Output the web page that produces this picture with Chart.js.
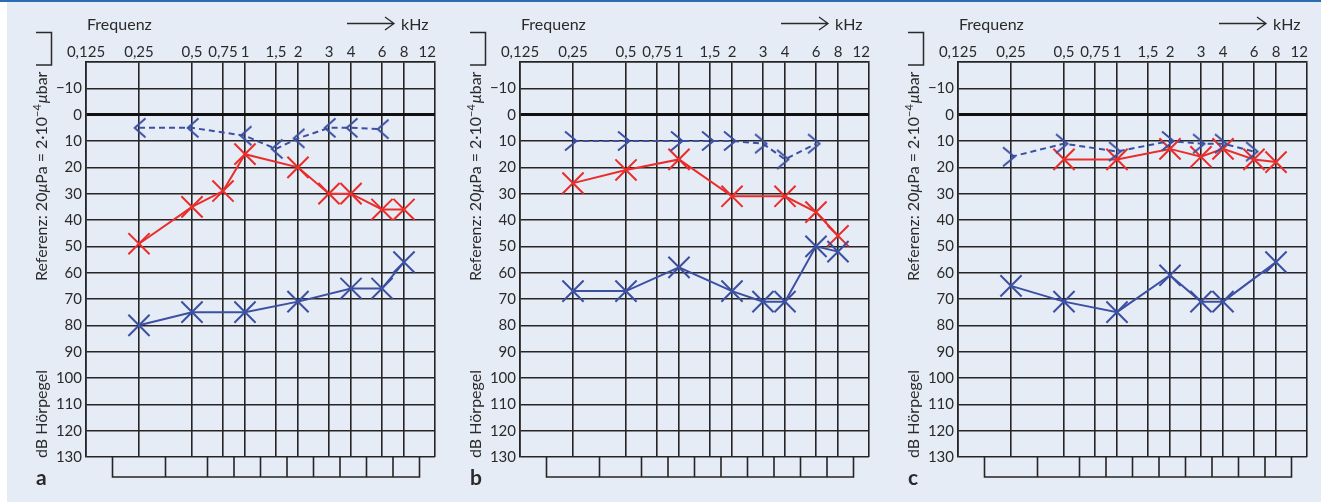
<!DOCTYPE html>
<html><head><meta charset="utf-8">
<script src="https://cdn.jsdelivr.net/npm/chart.js@4.4.1/dist/chart.umd.min.js"></script>
<style>
html,body{margin:0;padding:0;background:#fff;width:1321px;height:502px;overflow:hidden;}
#bg{position:absolute;left:7px;top:2px;width:1314px;height:500px;background:#e6ecf6;}
#topline{position:absolute;left:0;top:0;width:1321px;height:2px;background:#2b6cb3;}
canvas{position:absolute;top:0;}
</style></head><body>
<div id="bg"></div><div id="topline"></div>
<canvas id="ca" width="440" height="502" style="left:0px"></canvas>
<canvas id="cb" width="440" height="502" style="left:434px"></canvas>
<canvas id="cc" width="449" height="502" style="left:872px"></canvas>
<script>
// ---- axis ticks ----
const FREQ_TICKS  = [0.125, 0.25, 0.5, 0.75, 1, 1.5, 2, 3, 4, 6, 8, 12];
const FREQ_LABELS = ['0,125','0,25','0,5','0,75','1','1,5','2','3','4','6','8','12'];
const DB_TICKS    = [-20,-10,0,10,20,30,40,50,60,70,80,90,100,110,120,130];
const BOX_FREQS   = [0.25, 0.5, 0.75, 1, 1.5, 2, 3, 4, 6, 8];

// ---- panel a ----
const A_BONE_FREQ = [0.25, 0.5, 1, 1.5, 2, 3, 4, 6];
const A_BONE_DB   = [5, 5, 8, 13, 9, 5, 5, 5.5];
const A_RED_FREQ  = [0.25, 0.5, 0.75, 1, 2, 3, 4, 6, 8];
const A_RED_DB    = [49, 35, 29, 15, 20, 30, 30, 36, 36];
const A_BLUE_FREQ = [0.25, 0.5, 1, 2, 4, 6, 8];
const A_BLUE_DB   = [80, 75, 75, 71, 66, 66, 56];

// ---- panel b ----
const B_BONE_FREQ = [0.25, 0.5, 1, 1.5, 2, 3, 4, 6];
const B_BONE_DB   = [10, 10, 10, 10, 10, 11, 17, 11];
const B_RED_FREQ  = [0.25, 0.5, 1, 2, 4, 6, 8];
const B_RED_DB    = [26, 21, 17, 31, 31, 37, 46];
const B_BLUE_FREQ = [0.25, 0.5, 1, 2, 3, 4, 6, 8];
const B_BLUE_DB   = [67, 67, 58, 67, 71, 71, 50, 52];

// ---- panel c ----
const C_BONE_FREQ = [0.25, 0.5, 1, 2, 3, 4, 6];
const C_BONE_DB   = [16, 11, 14, 10, 11, 11, 14];
const C_RED_FREQ  = [0.5, 1, 2, 3, 4, 6, 8];
const C_RED_DB    = [17, 17, 13, 16, 13, 17, 18];
const C_BLUE_FREQ = [0.25, 0.5, 1, 2, 3, 4, 8];
const C_BLUE_DB   = [65, 71, 75, 61, 71, 71, 56];

const RED = '#ea2c2a', BLUE = '#3b50a2', GRID = '#262424', TXT = '#2b2a2a';
const FONT = 'Lato, "Open Sans", sans-serif';
const X_MIN = 0.125, X_MAX = 12, Y_MIN = -20, Y_MAX = 130;

function chevron(dir){
  const c = document.createElement('canvas'); c.width = 28; c.height = 28;
  const g = c.getContext('2d'); g.strokeStyle = BLUE; g.lineWidth = 2;
  const cx = 14, cy = 14;
  const tip = dir > 0 ? 3.5 : -4.3, arm = dir > 0 ? -8 : 6.5;
  g.beginPath(); g.moveTo(cx+arm, cy-9.5); g.lineTo(cx+tip, cy); g.lineTo(cx+arm, cy+9.5); g.stroke();
  return c;
}
const LEFT_MARK = chevron(-1), RIGHT_MARK = chevron(1);

function ds(freq, db, color, style, dashed){
  return {
    data: freq.map((f,i)=>({x:f, y:db[i]})),
    borderColor: color, backgroundColor: color, borderWidth: 2,
    borderDash: dashed ? [6,4] : [],
    pointStyle: style, pointRadius: style === 'crossRot' ? 15 : 10,
    pointBorderWidth: 2, pointBorderColor: color, pointBackgroundColor: color,
    tension: 0, clip: false
  };
}

const deco = {
  id: 'deco',
  afterDraw(chart, args, opts){
    const ctx = chart.ctx;
    const {left, right, top, bottom} = chart.chartArea;
    const xs = chart.scales.x;
    ctx.save();
    ctx.fillStyle = TXT; ctx.strokeStyle = TXT;
    // x tick labels
    ctx.font = '15px ' + FONT; ctx.textBaseline = 'alphabetic';
    FREQ_TICKS.forEach((v,i)=>{
      const px = xs.getPixelForValue(v);
      const last = i === FREQ_TICKS.length-1;
      ctx.textAlign = last ? 'right' : 'center';
      ctx.fillText(FREQ_LABELS[i], last ? px + 1 : px, top - 5);
    });
    // Frequenz + arrow kHz
    ctx.font = '16px ' + FONT; ctx.textAlign = 'left';
    ctx.fillText('Frequenz', left + 1, 30);
    ctx.fillText('kHz', right - 34, 30);
    ctx.lineWidth = 1.3;
    ctx.beginPath();
    ctx.moveTo(right-88, 23.5); ctx.lineTo(right-41, 23.5);
    ctx.moveTo(right-50, 17); ctx.lineTo(right-41, 23.5); ctx.lineTo(right-50, 30);
    ctx.stroke();
    // bracket
    ctx.lineWidth = 1.5;
    ctx.beginPath();
    ctx.moveTo(left-50, 32.5); ctx.lineTo(left-34.5, 32.5); ctx.lineTo(left-34.5, 65); ctx.lineTo(left-50, 65);
    ctx.stroke();
    // rotated y titles
    const segs = [
      ['Referenz: 20', '16px ' + FONT, 0],
      ['\u03bc', 'italic 16px ' + FONT, 0],
      ['Pa = 2\u00b710', '16px ' + FONT, 0],
      ['\u22124', '11px ' + FONT, -6],
      ['\u03bc', 'italic 16px ' + FONT, 0],
      ['bar', '16px ' + FONT, 0]
    ];
    ctx.save();
    ctx.translate(left - 39.5, 281);
    ctx.rotate(-Math.PI/2);
    ctx.textAlign = 'left';
    let xx = 0;
    segs.forEach(s=>{ ctx.font = s[1]; ctx.fillText(s[0], xx, s[2]); xx += ctx.measureText(s[0]).width + (s[0]==='\u22124' ? 1 : 0); });
    ctx.restore();
    ctx.save();
    ctx.translate(left - 39.5, 458);
    ctx.rotate(-Math.PI/2);
    ctx.textAlign = 'left'; ctx.font = '16px ' + FONT;
    ctx.fillText('dB H\u00f6rpegel', 0, 0);
    ctx.restore();
    // box row under the grid
    const edges = [Math.sqrt(FREQ_TICKS[0]*FREQ_TICKS[1])];
    for (let i=0;i<BOX_FREQS.length-1;i++) edges.push(Math.sqrt(BOX_FREQS[i]*BOX_FREQS[i+1]));
    edges.push(Math.sqrt(FREQ_TICKS[10]*FREQ_TICKS[11]));
    const ex = edges.map(v=>xs.getPixelForValue(v));
    ctx.strokeStyle = GRID; ctx.lineWidth = 1.6;
    ctx.beginPath();
    ctx.moveTo(ex[0], bottom); ctx.lineTo(ex[0], bottom+20); ctx.lineTo(ex[ex.length-1], bottom+20); ctx.lineTo(ex[ex.length-1], bottom);
    for (let i=1;i<ex.length-1;i++){ ctx.moveTo(ex[i], bottom); ctx.lineTo(ex[i], bottom+20); }
    ctx.stroke();
    // panel letter
    ctx.fillStyle = TXT;
    ctx.font = 'bold 21px ' + FONT; ctx.textAlign = 'left';
    ctx.fillText(opts.letter, left - 50, 485);
    ctx.restore();
  }
};

function makeChart(id, padRight, letter, sets){
  return new Chart(document.getElementById(id), {
    type: 'line',
    data: { datasets: sets },
    plugins: [deco],
    options: {
      responsive: false, animation: false, devicePixelRatio: 1,
      layout: { autoPadding: false, padding: { left: 0, right: padRight, top: 0, bottom: 45 } },
      plugins: { legend: { display: false }, tooltip: { enabled: false }, deco: { letter } },
      scales: {
        x: {
          type: 'logarithmic', position: 'top', min: X_MIN, max: X_MAX, bounds: 'data',
          afterBuildTicks: ax => { ax.min = X_MIN; ax.max = X_MAX; ax.ticks = FREQ_TICKS.map(v=>({value: v})); },
          afterFit: ax => { ax.height = 62; },
          ticks: { display: false },
          grid: { color: GRID, lineWidth: 1.6, drawTicks: false },
          border: { color: GRID, width: 1.6 }
        },
        y: {
          type: 'linear', reverse: true, min: Y_MIN, max: Y_MAX,
          afterBuildTicks: ax => { ax.min = Y_MIN; ax.max = Y_MAX; ax.ticks = DB_TICKS.map(v=>({value: v})); },
          afterFit: ax => { ax.width = 86; },
          ticks: {
            autoSkip: false, padding: 4, color: TXT, font: { family: FONT, size: 15 },
            callback: v => v === -20 ? '' : (v < 0 ? '\u2212' + Math.abs(v) : String(v))
          },
          grid: {
            drawTicks: false,
            color: c => (c.tick && c.tick.value === 0) ? '#111' : GRID,
            lineWidth: c => (c.tick && c.tick.value === 0) ? 3 : 1.6
          },
          border: { color: GRID, width: 1.6 }
        }
      }
    }
  });
}

makeChart('ca', 5, 'a', [
  ds(A_BONE_FREQ, A_BONE_DB, BLUE, LEFT_MARK, true),
  ds(A_BLUE_FREQ, A_BLUE_DB, BLUE, 'crossRot', false),
  ds(A_RED_FREQ, A_RED_DB, RED, 'crossRot', false)
]);
makeChart('cb', 5, 'b', [
  ds(B_BONE_FREQ, B_BONE_DB, BLUE, RIGHT_MARK, true),
  ds(B_BLUE_FREQ, B_BLUE_DB, BLUE, 'crossRot', false),
  ds(B_RED_FREQ, B_RED_DB, RED, 'crossRot', false)
]);
makeChart('cc', 14, 'c', [
  ds(C_BONE_FREQ, C_BONE_DB, BLUE, RIGHT_MARK, true),
  ds(C_BLUE_FREQ, C_BLUE_DB, BLUE, 'crossRot', false),
  ds(C_RED_FREQ, C_RED_DB, RED, 'crossRot', false)
]);
</script>
</body></html>
